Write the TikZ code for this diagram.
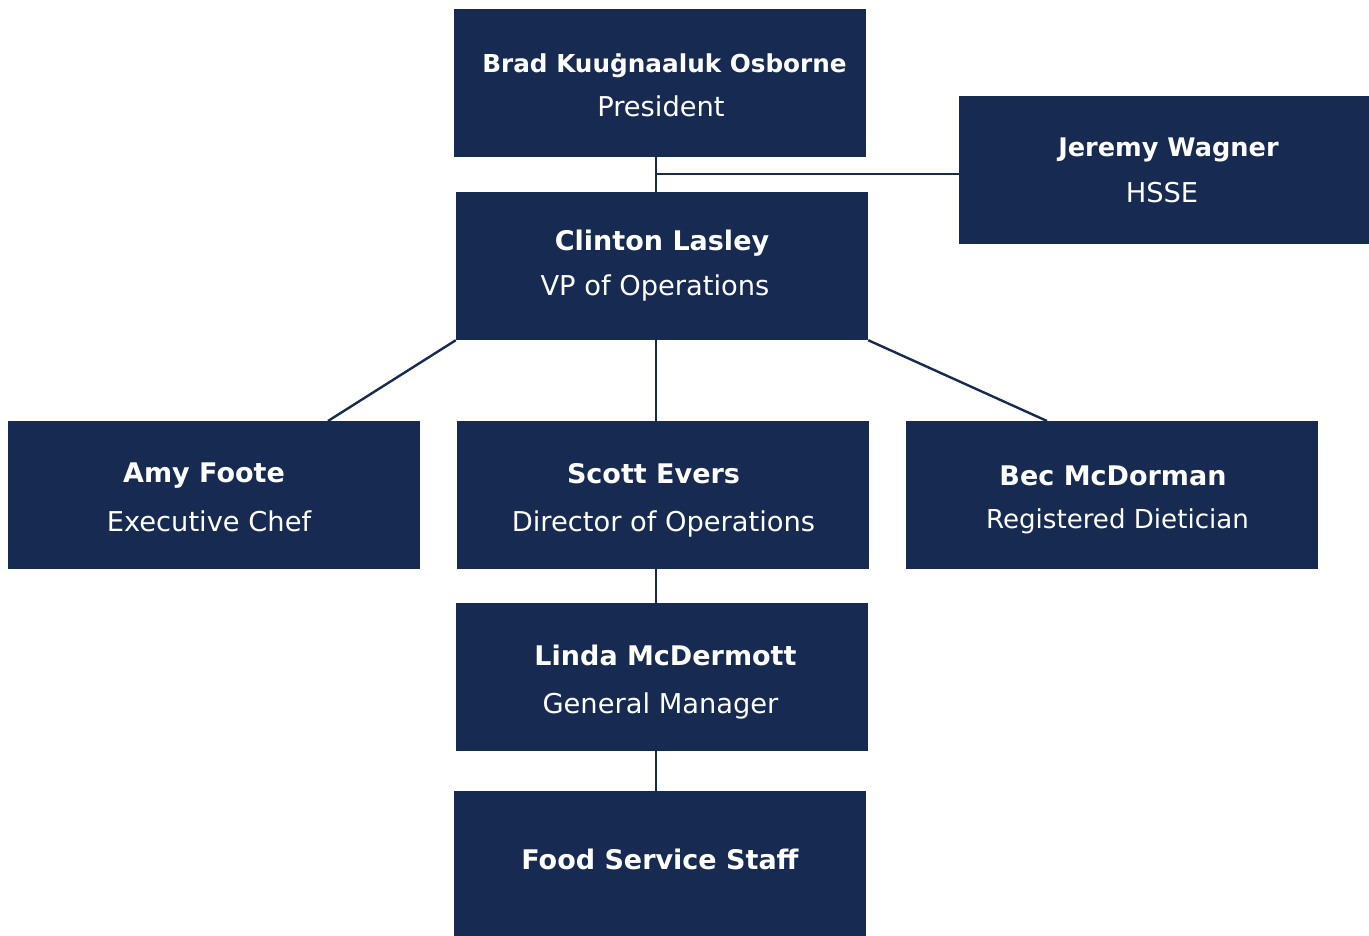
\documentclass[tikz,border=0pt]{standalone}
\usepackage{fontspec}
\setmainfont{DejaVu Sans}
\definecolor{navy}{HTML}{172B52}
\tikzset{
  box/.style={rectangle, fill=navy, draw=none, inner sep=0pt, minimum width=412pt, minimum height=148pt},
  nm/.style={anchor=base, text=white, inner sep=0pt, font=\bfseries\fontsize{27}{30}\selectfont},
  ttl/.style={anchor=base, text=white, inner sep=0pt, font=\fontsize{27.3}{30}\selectfont},
  link/.style={draw=navy, line width=2.4pt}
}
\begin{document}
\begin{tikzpicture}[x=1pt,y=-1pt]
\useasboundingbox (0,0) rectangle (1369,936);
% boxes
\node[box] (brad) at (660,83) {};
\node[box, minimum width=410pt] (jeremy) at (1164,170) {};
\node[box] (clinton) at (662,266) {};
\node[box] (amy) at (214,495) {};
\node[box] (scott) at (663,495) {};
\node[box] (bec) at (1112,495) {};
\node[box] (linda) at (662,677) {};
\node[box, minimum height=145pt] (food) at (660,863.5) {};
% texts
\node[nm, font=\bfseries\fontsize{24.7}{28}\selectfont] (bradN) at (664.5,73) {Brad Kuuġnaaluk Osborne};
\node[ttl] (bradT) at (661,117) {President};
\node[nm, font=\bfseries\fontsize{25.6}{28}\selectfont] (jeremyN) at (1168.5,157) {Jeremy Wagner};
\node[ttl] (jeremyT) at (1162,203) {HSSE};
\node[nm] (clintonN) at (662,251) {Clinton Lasley};
\node[ttl] (clintonT) at (655,295) {VP of Operations};
\node[nm] (amyN) at (204,482) {Amy Foote};
\node[ttl] (amyT) at (209,531) {Executive Chef};
\node[nm] (scottN) at (653.5,483) {Scott Evers};
\node[ttl] (scottT) at (663.5,531) {Director of Operations};
\node[nm] (becN) at (1113,485) {Bec McDorman};
\node[ttl, font=\fontsize{26.1}{30}\selectfont] (becT) at (1117.5,528) {Registered Dietician};
\node[nm] (lindaN) at (665.5,665) {Linda McDermott};
\node[ttl] (lindaT) at (660.5,713) {General Manager};
\node[nm] (foodN) at (660,869) {Food Service Staff};
% connector anchors
\coordinate (spine) at (656,0);
\coordinate (jtap) at (656,174);
\coordinate (amytop) at (328,421);
\coordinate (bectop) at (1047,421);
% connectors
\draw[link] (brad.south -| spine) -- (clinton.north -| spine);
\draw[link] (jtap) -- (jtap -| jeremy.west);
\draw[link] (clinton.south west) -- (amytop);
\draw[link] (clinton.south -| spine) -- (scott.north -| spine);
\draw[link] (clinton.south east) -- (bectop);
\draw[link] (scott.south -| spine) -- (linda.north -| spine);
\draw[link] (linda.south -| spine) -- (food.north -| spine);
\end{tikzpicture}
\end{document}
